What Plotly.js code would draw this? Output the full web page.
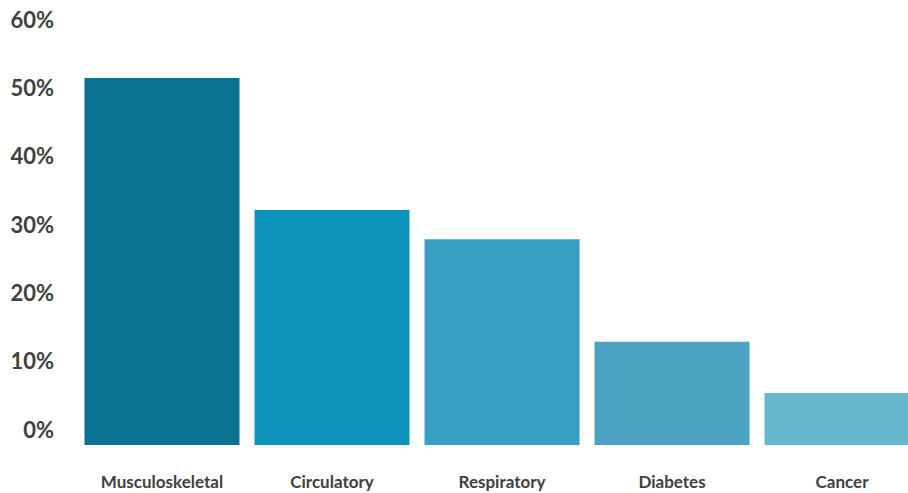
<!DOCTYPE html>
<html>
<head>
<meta charset="utf-8">
<script src="https://cdn.plot.ly/plotly-3.0.1.min.js"></script>
<style>html,body{margin:0;padding:0;background:#fff;}#chart{width:908px;height:493px;}</style>
</head>
<body>
<div id="chart"></div>
<script>
const categories = ["Musculoskeletal", "Circulatory", "Respiratory", "Diabetes", "Cancer"];
const values = [53.7, 34.4, 30.1, 15.1, 7.6];
const barColors = ["#0a7391", "#0d93bc", "#35a0c3", "#4aa3c2", "#67b8cd"];
const yTickVals = [0, 10, 20, 30, 40, 50, 60];
const yTickText = ["0%", "10%", "20%", "30%", "40%", "50%", "60%"];

const trace = {
  type: "bar",
  x: categories.map((c, i) => i),
  y: values,
  marker: { color: barColors, line: { width: 0 } },
  hoverinfo: "none",
  cliponaxis: true
};

const layout = {
  width: 908,
  height: 493,
  margin: { l: 77, r: 0, t: 35, b: 48, pad: 0 },
  paper_bgcolor: "#ffffff",
  plot_bgcolor: "#ffffff",
  showlegend: false,
  bargap: 15 / 170,
  font: { family: "Lato", color: "#404040" },
  xaxis: {
    range: [-0.5, 4.388],
    tickvals: [0, 1, 2, 3, 4],
    ticktext: categories,
    showgrid: false,
    zeroline: false,
    showline: false,
    ticks: "",
    ticklabelstandoff: 25,
    tickfont: { family: "Lato", size: 17, weight: "bold", color: "#404040" }
  },
  yaxis: {
    range: [0, 60],
    tickvals: yTickVals,
    ticktext: yTickText,
    showgrid: false,
    zeroline: false,
    showline: false,
    ticks: "",
    ticklabelshift: -15,
    ticklabelstandoff: 22,
    tickfont: { family: "Lato", size: 22, weight: "bold", color: "#404040" }
  }
};

Plotly.newPlot("chart", [trace], layout, { displayModeBar: false, staticPlot: true });
</script>
</body>
</html>
